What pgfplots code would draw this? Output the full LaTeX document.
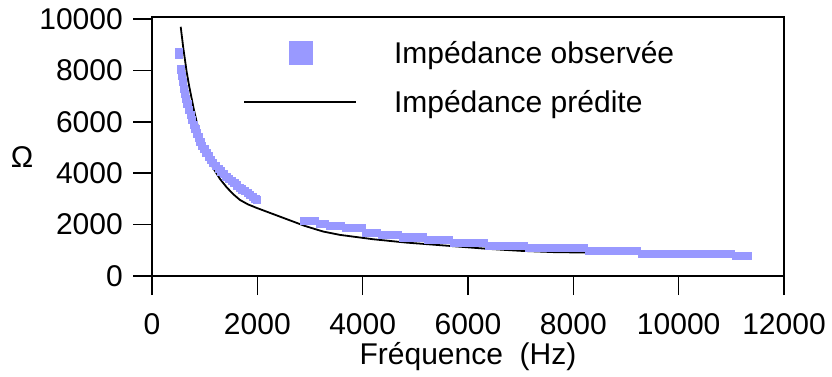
\documentclass[border=0pt]{standalone}
\usepackage{fontspec}
\setmainfont{Liberation Sans}
\usepackage{pgfplots}
\pgfplotsset{compat=1.18}
\definecolor{obs}{RGB}{153,153,255}
\newcommand{\fs}{\fontsize{30bp}{36bp}\selectfont}

\begin{document}
\begin{tikzpicture}
\useasboundingbox (0,0) rectangle (832bp,377bp);
\begin{axis}[
  at={(152bp,101bp)}, anchor=south west,
  scale only axis, width=632bp, height=259bp,
  xmin=0, xmax=12000, ymin=0, ymax=10080,
  xtick={0,2000,...,12000}, ytick={0,2000,...,10000},
  tick pos=left,
  tick align=outside,
  major tick length=19bp,
  every tick/.style={black, line width=1.6bp},
  axis line style={line width=1.6bp},
  scaled ticks=false,
  /pgf/number format/1000 sep={},
  /pgf/number format/assume math mode=true,
  tick label style={font=\fs},
  label style={font=\fs},
  xticklabel style={inner sep=0pt, yshift=-18bp},
  yticklabel style={inner sep=0pt, xshift=-10bp},
  xlabel={Fréquence\ \ (Hz)},
  xlabel style={at={(rel axis cs:0.5,0)}, anchor=base, inner sep=0pt, yshift=-88bp},
  ylabel={Ω},
  ylabel style={rotate=-90, at={(rel axis cs:0,0.459)}, anchor=center, inner sep=0pt, xshift=-130bp},
  legend style={draw=none, fill=none, font=\fs, at={(rel axis cs:0.144,0.917)}, anchor=north west,
    inner sep=0pt, column sep=37bp, row sep=20bp,
    nodes={inner sep=0pt, text height=25bp, text depth=4bp}},
  legend cell align=left,
]
\addplot[only marks, mark=square*, mark size=3.6bp, color=obs, mark options={draw=none, fill=obs},
  legend image code/.code={\path[draw=none, fill=none] (0bp,-12bp) rectangle (112bp,12bp); \fill[obs, draw=none] (45bp,-12bp) rectangle (69bp,12bp);}]
coordinates {
(507,8720) (507,8620)
(550,8050) (565,7800) (580,7560) (600,7300) (620,7100) (645,6900) (670,6700)
(700,6480) (730,6280) (760,6080) (790,5900) (820,5720) (850,5560) (880,5400)
(915,5240) (950,5080) (990,4940) (1030,4800) (1070,4660) (1110,4540) (1160,4420)
(1210,4300) (1260,4190) (1310,4080) (1360,3980) (1410,3880) (1460,3790) (1510,3700)
(1560,3620) (1610,3530) (1660,3450) (1710,3380) (1760,3310) (1810,3240) (1860,3160)
(1910,3080) (1960,3010) (1990,2960)
(2880,2150) (2980,2150) (3080,2150)
(3180,2050) (3280,2050)
(3380,1960) (3480,1960) (3580,1960)
(3680,1870) (3780,1870) (3880,1870) (3980,1870)
(4060,1700) (4160,1700) (4260,1700)
(4360,1610) (4460,1610) (4560,1610) (4660,1610)
(4760,1510) (4860,1510) (4960,1510) (5060,1510) (5140,1510)
(5230,1420) (5330,1420) (5430,1420) (5530,1420) (5630,1420)
(5730,1310) (5830,1310) (5930,1310) (6030,1310) (6130,1310) (6230,1310) (6300,1310)
(6400,1180) (6500,1180) (6600,1180) (6700,1180) (6800,1180) (6900,1180) (7000,1180) (7060,1180)
(7160,1100) (7260,1100) (7360,1100) (7460,1100) (7560,1100) (7660,1100) (7760,1100) (7860,1100) (7960,1100) (8060,1100) (8200,1100)
(8300,985) (8400,985) (8500,985) (8600,985) (8700,985) (8800,985) (8900,985) (9000,985) (9100,985) (9200,985)
(9300,883) (9400,883) (9500,883) (9600,883) (9700,883) (9800,883) (9900,883) (10000,883) (10100,883) (10200,883)
(10300,883) (10400,883) (10500,883) (10600,883) (10700,883) (10800,883) (10900,883) (10980,883)
(11080,800) (11180,800) (11300,800)
};
\addlegendentry{Impédance observée}
\addplot[black, line width=1.8bp, mark=none,
  legend image code/.code={\path[draw=none, fill=none] (0bp,-12bp) rectangle (112bp,12bp); \draw[black, line width=1.8bp] (0bp,0bp) -- (112bp,0bp);}]
coordinates {
(545,9700) (595,8860) (658,7950) (705,7400) (753,6910) (800,6430) (848,6000) (910,5530)
(975,5100) (1060,4620) (1165,4190) (1290,3780) (1418,3450) (1545,3180) (1670,2960)
(1820,2790) (1987,2650) (2900,1950) (3250,1730) (3570,1600)
(4200,1430) (4830,1300) (5470,1200) (6350,1060) (6990,980) (7620,930)
(8250,910) (8890,890) (10200,880) (11220,850)
};
\addlegendentry{Impédance prédite}
\end{axis}
\end{tikzpicture}
\end{document}
